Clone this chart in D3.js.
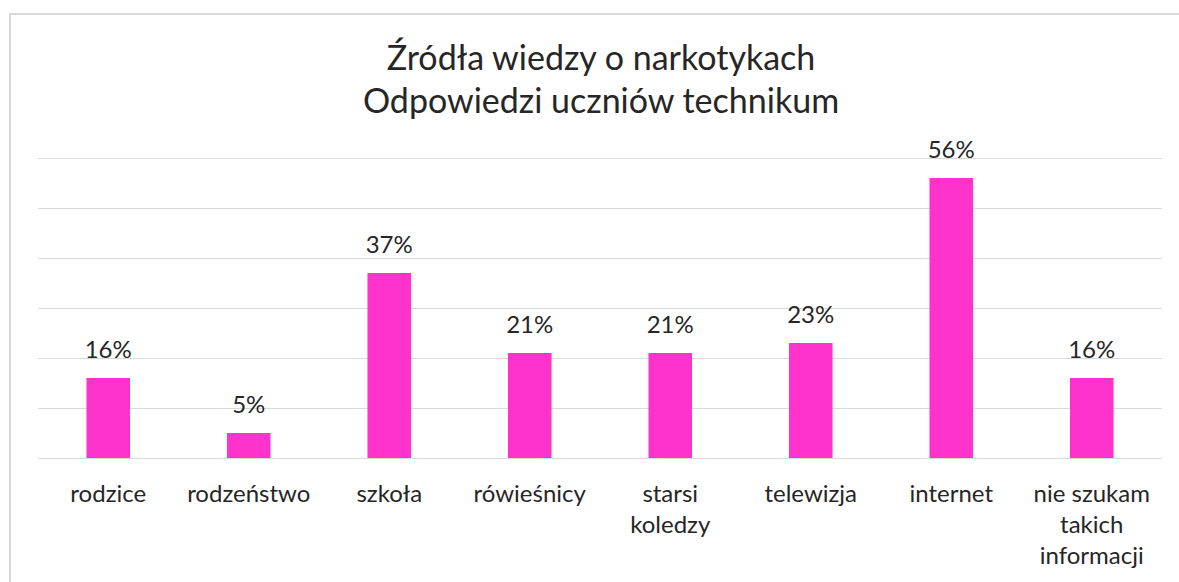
<!DOCTYPE html>
<html>
<head>
<meta charset="utf-8">
<script src="https://cdn.jsdelivr.net/npm/d3@7"></script>
<style>
  body { margin: 0; background: #fff; }
  text { font-family: "Lato", "Open Sans", sans-serif; fill: #262626; }
</style>
</head>
<body>
<svg id="chart" width="1179" height="582"></svg>
<script>
// Data
const categories = ["rodzice", "rodzeństwo", "szkoła", "rówieśnicy", "starsi koledzy", "telewizja", "internet", "nie szukam takich informacji"];
const categoryLines = [["rodzice"], ["rodzeństwo"], ["szkoła"], ["rówieśnicy"], ["starsi", "koledzy"], ["telewizja"], ["internet"], ["nie szukam", "takich", "informacji"]];
const values = [16, 5, 37, 21, 21, 23, 56, 16];
const gridTicks = [0, 10, 20, 30, 40, 50, 60];
const titleLines = ["Źródła wiedzy o narkotykach", "Odpowiedzi uczniów technikum"];

const width = 1179, height = 582;
const plot = { left: 38, right: 1162, top: 158, bottom: 458 };

const svg = d3.select("#chart");

// Chart frame (only top and left edges show in the picture)
svg.append("path")
  .attr("d", `M10,${height} L10,14 L${width},14`)
  .attr("fill", "none")
  .attr("stroke", "#d9d9d9")
  .attr("stroke-width", 2);

const x = d3.scaleBand()
  .domain(categories)
  .range([plot.left, plot.right])
  .paddingInner(0.69)
  .paddingOuter(0.345);

const y = d3.scaleLinear()
  .domain([0, 60])
  .range([plot.bottom, plot.top]);

// Gridlines
svg.append("g")
  .selectAll("line")
  .data(gridTicks)
  .enter()
  .append("line")
  .attr("x1", plot.left)
  .attr("x2", plot.right)
  .attr("y1", d => y(d) + 0.5)
  .attr("y2", d => y(d) + 0.5)
  .attr("stroke", "#d9d9d9")
  .attr("stroke-width", 1);

// Bars
svg.append("g")
  .selectAll("rect")
  .data(values)
  .enter()
  .append("rect")
  .attr("x", (d, i) => x(categories[i]))
  .attr("y", d => y(d))
  .attr("width", x.bandwidth())
  .attr("height", d => y(0) - y(d))
  .attr("fill", "#ff33cc");

// Value labels
svg.append("g")
  .selectAll("text")
  .data(values)
  .enter()
  .append("text")
  .attr("x", (d, i) => x(categories[i]) + x.bandwidth() / 2)
  .attr("y", d => y(d) - 20)
  .attr("text-anchor", "middle")
  .style("font-size", "24px")
  .text(d => d + "%");

// Category labels (wrapped like the original)
const catGroups = svg.append("g")
  .selectAll("text")
  .data(categoryLines)
  .enter()
  .append("text")
  .attr("text-anchor", "middle")
  .style("font-size", "24px")
  .attr("transform", (d, i) => `translate(${x(categories[i]) + x.bandwidth() / 2}, 502)`);

catGroups.selectAll("tspan")
  .data(d => d)
  .enter()
  .append("tspan")
  .attr("x", 0)
  .attr("y", (d, i) => i * 31)
  .text(d => d);

// Title
svg.append("g")
  .selectAll("text")
  .data(titleLines)
  .enter()
  .append("text")
  .attr("x", 601)
  .attr("y", (d, i) => 70 + i * 43)
  .attr("text-anchor", "middle")
  .style("font-size", "34px")
  .text(d => d);
</script>
</body>
</html>
